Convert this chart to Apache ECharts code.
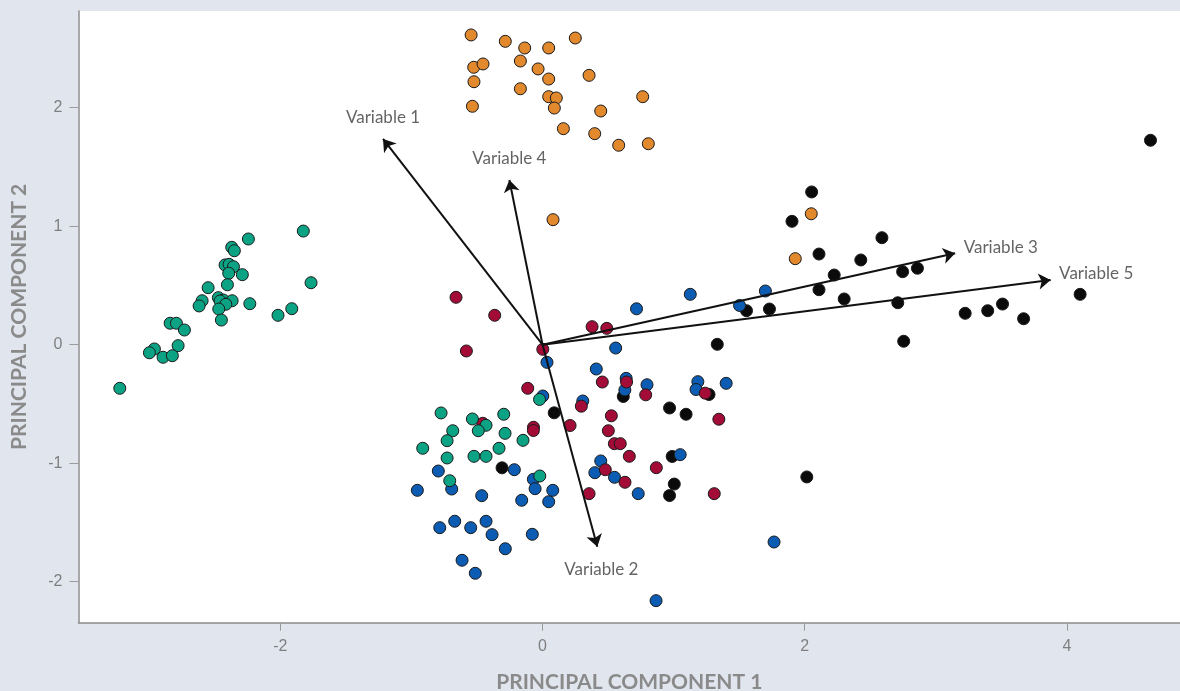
<!DOCTYPE html>
<html>
<head>
<meta charset="utf-8">
<script src="https://cdn.jsdelivr.net/npm/echarts@6/dist/echarts.min.js"></script>
<style>
  html, body { margin: 0; padding: 0; background: #e1e5ee; }
  #pcaChart { width: 1180px; height: 691px; }
</style>
</head>
<body>
<div id="pcaChart"></div>
<script>
// scores by group, [PC1, PC2]
var groupBlack = [
  [4.638, 1.725], [2.053, 1.289], [1.903, 1.041], [2.589, 0.903], [2.109, 0.765],
  [2.428, 0.715], [2.225, 0.588], [2.747, 0.616], [2.860, 0.645], [2.109, 0.464],
  [2.301, 0.386], [2.710, 0.354], [1.731, 0.301], [1.556, 0.287], [3.224, 0.265],
  [3.396, 0.287], [3.509, 0.343], [3.670, 0.219], [4.101, 0.425], [1.333, 0.003],
  [2.755, 0.029], [0.616, -0.437], [1.270, -0.420], [0.969, -0.534], [1.095, -0.587],
  [0.989, -0.943], [1.005, -1.176], [0.969, -1.273], [0.089, -0.575], [-0.309, -1.039],
  [2.016, -1.116]
];
var groupBlue = [
  [1.127, 0.425], [0.717, 0.303], [1.503, 0.331], [1.700, 0.453], [0.558, -0.028],
  [0.034, -0.149], [0.410, -0.205], [0.638, -0.284], [0.628, -0.382], [0.797, -0.338],
  [1.185, -0.312], [1.171, -0.378], [1.401, -0.326], [0.002, -0.433], [0.307, -0.475],
  [1.050, -0.928], [0.444, -0.981], [0.399, -1.080], [0.549, -1.119], [0.730, -1.257],
  [-0.795, -1.066], [-0.215, -1.055], [-0.070, -1.136], [-0.057, -1.215], [0.078, -1.229],
  [-0.955, -1.229], [-0.693, -1.218], [-0.464, -1.274], [-0.159, -1.313], [0.047, -1.325],
  [-0.784, -1.544], [-0.670, -1.490], [-0.548, -1.544], [-0.431, -1.490], [-0.385, -1.603],
  [-0.078, -1.600], [-0.284, -1.722], [-0.614, -1.819], [-0.513, -1.929], [0.866, -2.160],
  [1.766, -1.665]
];
var groupRed = [
  [-0.660, 0.400], [-0.365, 0.248], [0.378, 0.152], [0.490, 0.138], [-0.581, -0.053],
  [0.002, -0.039], [-0.113, -0.368], [0.456, -0.315], [0.641, -0.315], [0.787, -0.423],
  [1.241, -0.409], [0.296, -0.519], [0.525, -0.600], [1.345, -0.629], [0.210, -0.682],
  [-0.069, -0.697], [-0.070, -0.724], [-0.456, -0.663], [0.502, -0.726], [0.548, -0.835],
  [0.593, -0.835], [0.662, -0.942], [0.479, -1.055], [0.868, -1.038], [0.629, -1.161],
  [0.355, -1.257], [1.310, -1.257]
];
var groupGreen = [
  [-1.825, 0.959], [-2.244, 0.892], [-2.371, 0.822], [-2.351, 0.793], [-2.422, 0.673],
  [-2.391, 0.678], [-2.358, 0.658], [-2.394, 0.603], [-2.290, 0.591], [-2.404, 0.506],
  [-1.766, 0.523], [-2.551, 0.481], [-2.597, 0.371], [-2.620, 0.327], [-2.473, 0.397],
  [-2.435, 0.377], [-2.368, 0.371], [-2.460, 0.369], [-2.416, 0.341], [-2.233, 0.346],
  [-2.470, 0.301], [-2.450, 0.208], [-2.018, 0.248], [-1.913, 0.304], [-2.841, 0.181],
  [-2.793, 0.181], [-2.732, 0.124], [-2.780, -0.008], [-2.961, -0.036], [-2.999, -0.068],
  [-2.895, -0.106], [-2.824, -0.093], [-3.225, -0.368],
  [-0.774, -0.576], [-0.535, -0.627], [-0.296, -0.587], [-0.431, -0.680], [-0.490, -0.726],
  [-0.685, -0.726], [-0.728, -0.810], [-0.286, -0.748], [-0.149, -0.807], [-0.332, -0.874],
  [-0.914, -0.874], [-0.728, -0.956], [-0.523, -0.942], [-0.431, -0.942], [-0.708, -1.148],
  [-0.021, -1.108], [-0.023, -0.462]
];
var groupOrange = [
  [-0.545, 2.614], [-0.284, 2.560], [-0.136, 2.504], [0.047, 2.504], [0.250, 2.588],
  [-0.525, 2.341], [-0.454, 2.369], [-0.169, 2.394], [-0.034, 2.327], [0.047, 2.242],
  [0.355, 2.273], [-0.523, 2.219], [-0.169, 2.160], [0.047, 2.093], [0.105, 2.082],
  [0.090, 1.997], [0.764, 2.093], [-0.535, 2.012], [0.444, 1.972], [0.159, 1.823],
  [0.398, 1.781], [0.581, 1.683], [0.807, 1.696], [0.080, 1.055], [2.050, 1.105],
  [1.928, 0.726]
];

// loadings (arrow tips)
var variableNames = ["Variable 1", "Variable 2", "Variable 3", "Variable 4", "Variable 5"];
var loadingX = [-1.217, 0.418, 3.148, -0.253, 3.876];
var loadingY = [1.736, -1.705, 0.771, 1.390, 0.546];

var xTicks = [-2, 0, 2, 4];
var yTicks = [-2, -1, 0, 1, 2];

var myChart = echarts.init(document.getElementById("pcaChart"));

function pointSeries(data, color) {
  return {
    type: "scatter",
    data: data,
    symbolSize: 12,
    itemStyle: { color: color, borderColor: "#1a1a1a", borderWidth: 1, opacity: 1 },
    emphasis: { disabled: true },
    z: 2
  };
}

var arrowData = variableNames.map(function (name, i) {
  return { coords: [[0, 0], [loadingX[i], loadingY[i]]] };
});

// label placement follows arrow direction
var labelData = variableNames.map(function (name, i) {
  var dx = loadingX[i], dy = loadingY[i];
  var pos, offset = [0, 0], dist = 12;
  if (Math.abs(dx) > Math.abs(dy)) { pos = "right"; offset = [0, -6]; dist = 8; }
  else if (dy > 0) { pos = "top"; }
  else { pos = "bottom"; dist = 14; offset = [4, 0]; }
  return {
    name: name,
    value: [dx, dy],
    label: { position: pos, offset: offset, distance: dist }
  };
});

var option = {
  backgroundColor: "#e1e5ee",
  animation: false,
  grid: {
    left: 78.5, top: 11, right: 0, bottom: 68.3,
    show: true, backgroundColor: "#ffffff", borderWidth: 0,
    containLabel: false, outerBoundsMode: "none"
  },
  xAxis: {
    type: "value",
    min: -3.54, max: 4.863,
    name: "PRINCIPAL COMPONENT 1",
    nameLocation: "middle",
    nameGap: 49,
    nameTextStyle: { fontFamily: "Lato", fontWeight: "bold", fontSize: 21, color: "#8a8a8a" },
    axisLine: { show: true, onZero: false, lineStyle: { color: "#8c8c8c", width: 1.5 } },
    axisTick: { show: true, length: 8, customValues: xTicks, lineStyle: { color: "#9a9a9a" } },
    axisLabel: { customValues: xTicks, margin: 16, fontFamily: "Liberation Sans", fontSize: 16, color: "#7f7f7f" },
    splitLine: { show: false }
  },
  yAxis: {
    type: "value",
    min: -2.346, max: 2.816,
    name: "PRINCIPAL COMPONENT 2",
    nameLocation: "middle",
    nameGap: 49,
    nameRotate: 90,
    nameTextStyle: { fontFamily: "Lato", fontWeight: "bold", fontSize: 21, color: "#8a8a8a" },
    axisLine: { show: true, onZero: false, lineStyle: { color: "#8c8c8c", width: 1.5 } },
    axisTick: { show: true, length: 9, customValues: yTicks, lineStyle: { color: "#9a9a9a" } },
    axisLabel: { customValues: yTicks, margin: 16, fontFamily: "Liberation Sans", fontSize: 16, color: "#7f7f7f" },
    splitLine: { show: false }
  },
  series: [
    pointSeries(groupBlack, "#0b0b0b"),
    pointSeries(groupBlue, "#0b5cb2"),
    pointSeries(groupRed, "#a20c37"),
    pointSeries(groupGreen, "#0ca385"),
    pointSeries(groupOrange, "#e2892e"),
    {
      type: "lines",
      coordinateSystem: "cartesian2d",
      data: arrowData,
      symbol: ["none", "arrow"],
      symbolSize: 12,
      lineStyle: { color: "#111111", width: 2, opacity: 1 },
      silent: true,
      z: 5
    },
    {
      type: "scatter",
      data: labelData,
      symbolSize: 1,
      itemStyle: { color: "rgba(0,0,0,0)" },
      label: {
        show: true,
        formatter: "{b}",
        fontFamily: "Lato",
        fontSize: 17,
        color: "#3c3c3c"
      },
      silent: true,
      z: 6
    }
  ]
};

myChart.setOption(option);
</script>
</body>
</html>
